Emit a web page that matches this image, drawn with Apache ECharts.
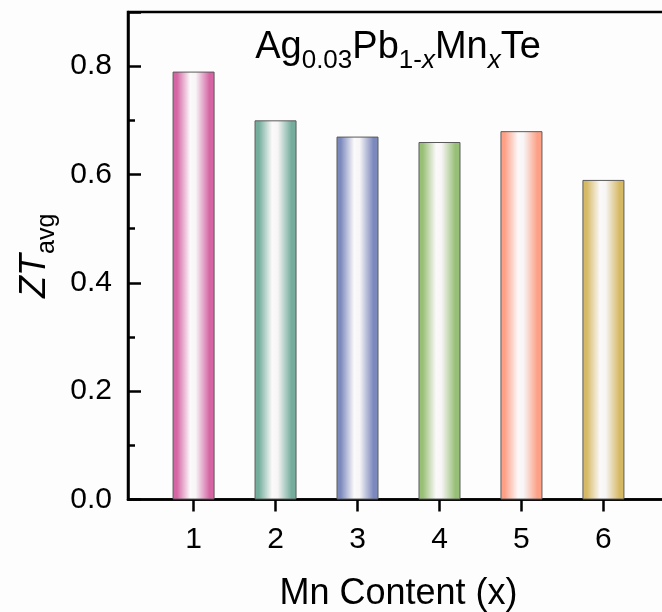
<!DOCTYPE html>
<html>
<head>
<meta charset="utf-8">
<script src="https://cdn.jsdelivr.net/npm/echarts@6/dist/echarts.min.js"></script>
<style>html,body{margin:0;padding:0;background:#fdfdfd;}#c{width:662px;height:612px;}</style>
</head>
<body>
<div id="c"></div>
<script>
// Data
const mnContent = [1, 2, 3, 4, 5, 6];
const ztAvg = [0.79, 0.70, 0.67, 0.66, 0.68, 0.59];
const xTickLabels = [1, 2, 3, 4, 5, 6];
const yTickLabels = ['0.0', '0.2', '0.4', '0.6', '0.8'];
const barColors = ['#d565a3', '#74ad9c', '#7c89bd', '#98bf76', '#fda086', '#d6b965'];

const FONT = '"Liberation Sans", Arial, sans-serif';

function grad(c) {
  return new echarts.graphic.LinearGradient(0, 0, 1, 0, [
    { offset: 0, color: c },
    { offset: 0.1, color: c },
    { offset: 0.42, color: '#fbf9fa' },
    { offset: 0.55, color: '#f7f5f6' },
    { offset: 0.88, color: c },
    { offset: 1, color: c }
  ]);
}

const chart = echarts.init(document.getElementById('c'), null, { renderer: 'canvas' });
chart.setOption({
  backgroundColor: '#fdfdfd',
  animation: false,
  grid: {
    left: 128, top: 12, width: 541, height: 487.5,
    outerBoundsMode: 'none', containLabel: false,
    show: true, borderColor: '#000', borderWidth: 2.5, backgroundColor: 'transparent'
  },
  graphic: [{
    type: 'text',
    x: 398, y: 48,
    style: {
      text: '{m|Ag}{s|0.03}{m|Pb}{s|1-}{si|x}{m|Mn}{si|x}{m|Te}',
      align: 'center', verticalAlign: 'middle',
      rich: {
        m: { fontSize: 38, lineHeight: 46, fontFamily: FONT, fill: '#000' },
        s: { fontSize: 26, lineHeight: 20, padding: [25, 0, 0, 0], fontFamily: FONT, fill: '#000' },
        si: { fontSize: 26, lineHeight: 20, padding: [25, 0, 0, 0], fontStyle: 'italic', fontFamily: FONT, fill: '#000' }
      }
    }
  }],
  xAxis: {
    type: 'value', min: 0.2, max: 6.8,
    name: 'Mn Content (x)', nameLocation: 'middle', nameGap: 77,
    nameTextStyle: { fontSize: 36, fontFamily: FONT, color: '#000' },
    axisLine: { show: true, onZero: false, lineStyle: { color: '#000', width: 2.5 } },
    axisTick: { show: true, inside: false, length: 12, customValues: xTickLabels, lineStyle: { color: '#000', width: 2.5 } },
    axisLabel: { customValues: xTickLabels, fontSize: 30, fontFamily: FONT, color: '#000', margin: 25 },
    splitLine: { show: false }
  },
  yAxis: {
    type: 'value', min: 0, max: 0.9, interval: 0.2,
    name: '{i|ZT}{s|avg}', nameLocation: 'middle', nameGap: 70, nameRotate: 90,
    nameTextStyle: {
      rich: {
        i: { fontSize: 36, lineHeight: 44, fontStyle: 'italic', fontFamily: FONT, color: '#000' },
        s: { fontSize: 25, lineHeight: 20, padding: [24, 0, 0, 0], fontFamily: FONT, color: '#000' }
      }
    },
    axisLine: { show: true, lineStyle: { color: '#000', width: 2.5 } },
    axisTick: { show: true, inside: true, length: 13, lineStyle: { color: '#000', width: 2.5 } },
    minorTick: { show: true, splitNumber: 2, length: 7, lineStyle: { color: '#000', width: 2.5 } },
    axisLabel: {
      fontSize: 30, fontFamily: FONT, color: '#000', margin: 16,
      formatter: function (v) { const i = Math.round(v / 0.2); return yTickLabels[i] !== undefined ? yTickLabels[i] : ''; }
    },
    splitLine: { show: false }
  },
  series: [{
    type: 'bar',
    barWidth: 42,
    data: mnContent.map(function (x, i) {
      return {
        value: [x, ztAvg[i]],
        itemStyle: { color: grad(barColors[i]), borderColor: '#5a5a5a', borderWidth: 1 }
      };
    })
  }]
});
</script>
</body>
</html>
